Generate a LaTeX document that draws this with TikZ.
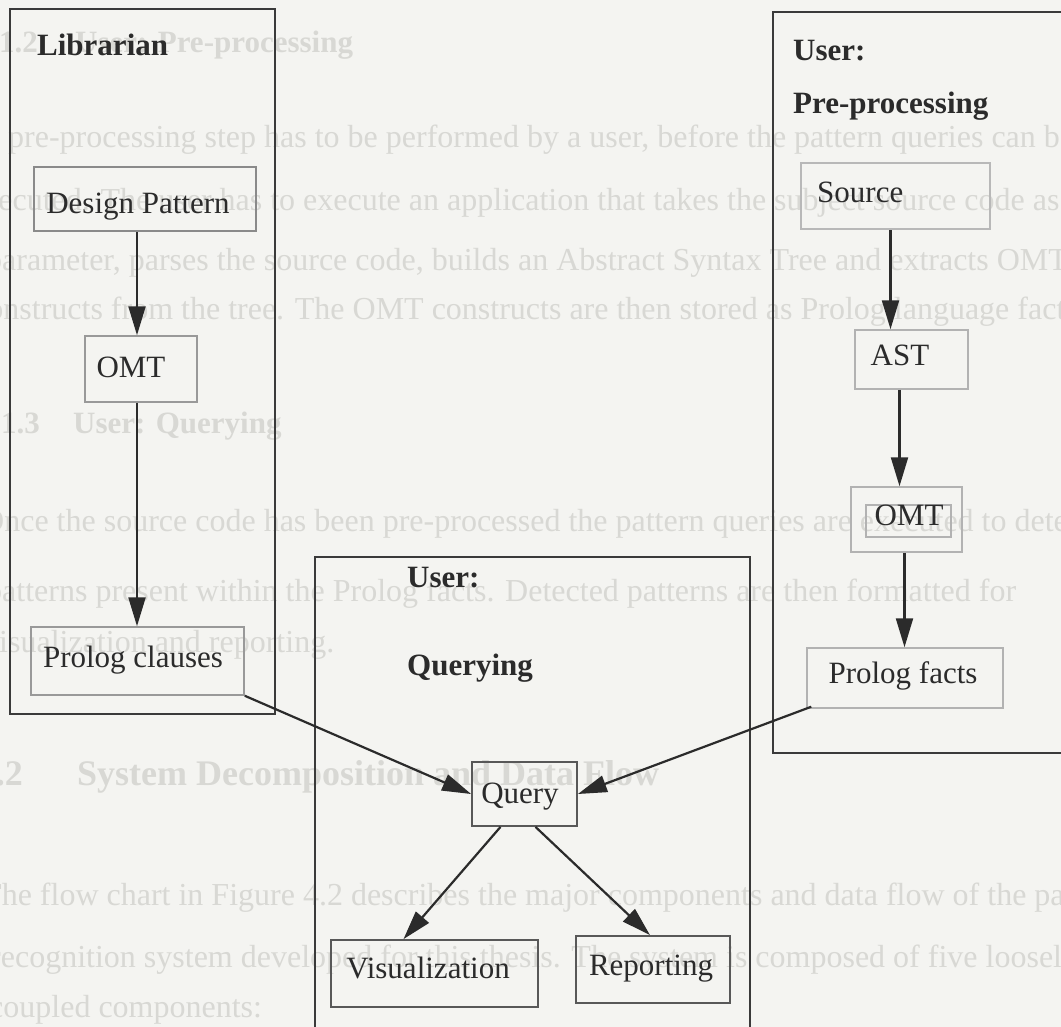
\documentclass[tikz,border=0pt]{standalone}
\usepackage{fontspec}
\setmainfont{Liberation Serif}
\usetikzlibrary{arrows.meta,calc}

\definecolor{paper}{HTML}{F4F4F1}
\definecolor{showthrough}{HTML}{D8D8D4}
\definecolor{ink}{HTML}{2B2B2B}
\definecolor{framecol}{HTML}{3A3A3A}
\definecolor{boxgray}{HTML}{999999}

\tikzset{
  lane/.style={draw=framecol, line width=1.6bp},
  softbox/.style={draw=boxgray, line width=1.5bp, rectangle, inner sep=0pt},
  hardbox/.style={draw=framecol!85, line width=1.8bp, rectangle, inner sep=0pt},
  lbl/.style={inner sep=0pt, text=ink, font=\fontsize{31bp}{37bp}\selectfont, anchor=base},
  head/.style={inner sep=0pt, text=ink, font=\fontsize{31bp}{37bp}\selectfont\bfseries, anchor=base west},
  flow/.style={draw=ink, line width=2.2bp, -{Triangle[length=29bp,width=17bp]}},
  pagetxt/.style={inner sep=0pt, text=showthrough, anchor=base west, font=\fontsize{32bp}{38bp}\selectfont},
  pagehead/.style={pagetxt, font=\fontsize{31bp}{37bp}\selectfont\bfseries},
}

\begin{document}
\begin{tikzpicture}[x=1bp, y=-1bp]
  % page and clipping window
  \fill[paper] (0,0) rectangle (1061,1027);
  \useasboundingbox (0,0) rectangle (1061,1027);
  \clip (0,0) rectangle (1061,1027);

  % text of the page underneath
  \node[pagehead, anchor=base east] (n412) at (38,52) {4.1.2};
  \node[pagehead] (t412) at (75,52) {User: Pre-processing};
  \node[pagetxt] (p1) at (8,147) {pre-processing step has to be performed by a user, before the pattern queries can be};
  \node[pagetxt] (p2) at (-32,210) {executed. The user has to execute an application that takes the subject source code as a};
  \node[pagetxt] (p3) at (-14,270) {parameter, parses the source code, builds an Abstract Syntax Tree and extracts OMT};
  \node[pagetxt] (p4) at (-27,319) {constructs from the tree. The OMT constructs are then stored as Prolog language facts.};
  \node[pagehead, anchor=base east] (n413) at (40,433) {4.1.3};
  \node[pagehead] (t413) at (73,433) {User: Querying};
  \node[pagetxt] (p5) at (-19,531) {Once the source code has been pre-processed the pattern queries are executed to detect};
  \node[pagetxt] (p6) at (-14,601) {patterns present within the Prolog facts. Detected patterns are then formatted for};
  \node[pagetxt] (p7) at (-17,652) {visualization and reporting.};
  \node[pagehead, anchor=base east, font=\fontsize{36bp}{42bp}\selectfont\bfseries] (n42) at (23,785) {4.2};
  \node[pagehead, font=\fontsize{36bp}{42bp}\selectfont\bfseries] (t42) at (77,785) {System Decomposition and Data Flow};
  \node[pagetxt] (p8) at (-18,905) {The flow chart in Figure 4.2 describes the major components and data flow of the pattern};
  \node[pagetxt] (p9) at (-10,967) {recognition system developed for this thesis. The system is composed of five loosely};
  \node[pagetxt] (p10) at (-11,1017) {coupled components:};

  % swim lanes
  \draw[lane] (10,9) rectangle (275,714);
  \draw[lane] (773,12) rectangle (1090,753);
  \draw[lane] (315,557) rectangle (750,1050);

  % lane titles
  \node[head] (libt) at (37,55) {Librarian};
  \node[head] (ppt1) at (793,60) {User:};
  \node[head] (ppt2) at (793,113) {Pre-processing};
  \node[head] (qut1) at (407,587) {User:};
  \node[head] (qut2) at (407,675) {Querying};

  % boxes
  \node[softbox, draw=boxgray!90!black, line width=2.4bp, minimum width=222bp, minimum height=64bp] (dp) at (145,199) {};
  \node[softbox, minimum width=112bp, minimum height=66bp] (omtL) at (141,369) {};
  \node[softbox, minimum width=213bp, minimum height=68bp] (pc) at (137.5,661) {};
  \node[softbox, draw=boxgray!70, line width=2.2bp, minimum width=189bp, minimum height=66bp] (src) at (895.5,196) {};
  \node[softbox, draw=boxgray!75, minimum width=113bp, minimum height=59bp] (ast) at (911.5,359.5) {};
  \node[softbox, draw=boxgray!75, minimum width=111bp, minimum height=65bp] (omtR) at (906.5,519.5) {};
  \node[softbox, draw=boxgray!75, line width=1.2bp, minimum width=85bp, minimum height=32bp] (omtRin) at (908.5,521) {};
  \node[softbox, draw=boxgray!75, minimum width=196bp, minimum height=60bp] (pf) at (905,678) {};
  \node[hardbox, minimum width=105bp, minimum height=64bp] (q) at (524.5,794) {};
  \node[hardbox, minimum width=207bp, minimum height=67bp] (vis) at (434.5,973.5) {};
  \node[hardbox, minimum width=154bp, minimum height=67bp] (rep) at (653,969.5) {};

  % box labels
  \node[lbl] (dpt) at (138,213) {Design Pattern};
  \node[lbl] (omtLt) at (131,377) {OMT};
  \node[lbl] (pct) at (133,667) {Prolog clauses};
  \node[lbl, anchor=base west] (srct) at (817,202) {Source};
  \node[lbl] (astt) at (900,365) {AST};
  \node[lbl] (omtRt) at (909,525) {OMT};
  \node[lbl] (pft) at (903,683) {Prolog facts};
  \node[lbl] (qt) at (520,803) {Query};
  \node[lbl] (vist) at (428,978) {Visualization};
  \node[lbl] (rept) at (651,975) {Reporting};

  % data flow
  \draw[flow] ($(omtL.north |- dp.south)+(-4,0)$) -- ($(omtL.north)+(-4,0)$);
  \draw[flow] ($(omtL.south)+(-4,0)$) -- ($(omtL.south |- pc.north)+(-4,0)$);
  \draw[flow] ($(src.south)+(-5,0)$) -- ($(src.south |- ast.north)+(-5,0)$);
  \draw[flow] ($(ast.south)+(-12,0)$) -- ($(ast.south |- omtR.north)+(-12,0)$);
  \draw[flow] ($(omtR.south)+(-2,0)$) -- ($(omtR.south |- pf.north)+(-2,0)$);
  \draw[flow] (pc.south east) -- (q.west);
  \draw[flow] ($(pf.south west)+(5,-2)$) -- (q.east);
  \draw[flow] ($(q.south)+(-24,0)$) -- ($(vis.north)+(-31,0)$);
  \draw[flow] ($(q.south)+(11,0)$) -- ($(rep.north)+(-3,0)$);
\end{tikzpicture}
\end{document}
